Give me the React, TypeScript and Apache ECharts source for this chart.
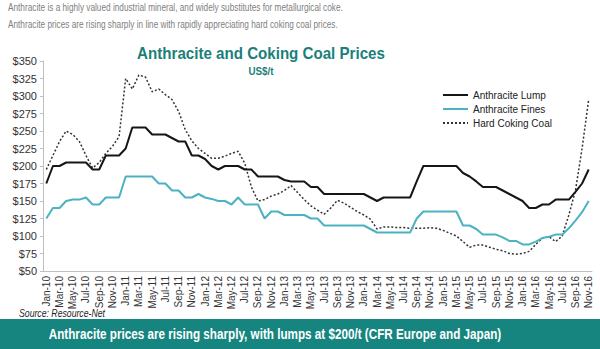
import React, { useEffect, useRef } from "react";
import * as echarts from "echarts";

const months = [
  "Jan-10","Feb-10","Mar-10","Apr-10","May-10","Jun-10","Jul-10","Aug-10","Sep-10","Oct-10","Nov-10","Dec-10",
  "Jan-11","Feb-11","Mar-11","Apr-11","May-11","Jun-11","Jul-11","Aug-11","Sep-11","Oct-11","Nov-11","Dec-11",
  "Jan-12","Feb-12","Mar-12","Apr-12","May-12","Jun-12","Jul-12","Aug-12","Sep-12","Oct-12","Nov-12","Dec-12",
  "Jan-13","Feb-13","Mar-13","Apr-13","May-13","Jun-13","Jul-13","Aug-13","Sep-13","Oct-13","Nov-13","Dec-13",
  "Jan-14","Feb-14","Mar-14","Apr-14","May-14","Jun-14","Jul-14","Aug-14","Sep-14","Oct-14","Nov-14","Dec-14",
  "Jan-15","Feb-15","Mar-15","Apr-15","May-15","Jun-15","Jul-15","Aug-15","Sep-15","Oct-15","Nov-15","Dec-15",
  "Jan-16","Feb-16","Mar-16","Apr-16","May-16","Jun-16","Jul-16","Aug-16","Sep-16","Oct-16","Nov-16",
];

const lump = [
  175, 200, 200, 205, 205, 205, 205, 195, 195, 215,
  215, 215, 225, 255, 255, 255, 245, 245, 245, 240,
  235, 235, 215, 215, 210, 200, 195, 200, 200, 200,
  195, 195, 185, 185, 185, 185, 180, 178, 178, 178,
  170, 170, 160, 160, 160, 160, 160, 160, 160, 155,
  150, 155, 155, 155, 155, 155, 178, 200, 200, 200,
  200, 200, 200, 190, 185, 178, 170, 170, 170, 165,
  160, 155, 150, 140, 140, 145, 145, 152, 152, 152,
  163, 175, 195,
];

const fines = [
  125, 140, 140, 150, 152, 152, 155, 145, 145, 155,
  155, 155, 185, 185, 185, 185, 185, 175, 175, 165,
  165, 155, 155, 160, 155, 153, 150, 150, 145, 155,
  145, 145, 145, 125, 135, 135, 130, 130, 130, 130,
  125, 125, 115, 115, 115, 115, 115, 115, 115, 110,
  105, 105, 105, 105, 105, 105, 125, 135, 135, 135,
  135, 135, 135, 115, 115, 110, 102, 102, 102, 98,
  93, 93, 88, 88, 92, 97, 99, 102, 102, 111,
  122, 134, 150,
];

const coking = [
  195, 215, 235, 250, 245, 235, 215, 197, 205, 218,
  228, 242, 325, 310, 330, 327, 306, 310, 302, 295,
  278, 252, 236, 225, 218, 211, 211, 214, 218, 221,
  204, 170, 150, 152, 157, 160, 165, 172, 162, 152,
  143, 137, 131, 140, 151, 147, 141, 135, 130, 124,
  110, 113, 113, 112, 112, 111, 111, 111, 112, 111,
  108, 104, 100, 92, 84, 87, 87, 84, 81, 79,
  75, 74, 75, 78, 88, 97, 99, 92, 100, 130,
  165, 225, 295,
];

const seriesNames = ["Anthracite Lump", "Anthracite Fines", "Hard Coking Coal"];

const FONT = "Arial, 'Liberation Sans', Helvetica, sans-serif";
const TEAL = "#1a7f7a";
const BANNER = "#16857f";

export default function App() {
  const ref = useRef<HTMLDivElement>(null);
  useEffect(() => {
    const chart = echarts.init(ref.current!, null, { renderer: "svg" });
    chart.setOption({
      animation: false,
      textStyle: { fontFamily: FONT },
      grid: { left: 43, right: 8, top: 61, bottom: 78, containLabel: false },
      legend: {
        orient: "vertical",
        left: 437,
        top: 85,
        itemWidth: 25,
        itemHeight: 12,
        itemGap: 4,
        itemStyle: { opacity: 0 },
        textStyle: { fontSize: 10, color: "#222", fontFamily: FONT },
        data: seriesNames,
      },
      xAxis: {
        type: "category",
        data: months,
        boundaryGap: true,
        axisLine: { lineStyle: { color: "#bfbfbf" } },
        axisTick: { alignWithLabel: true, interval: 1, length: 3, lineStyle: { color: "#bfbfbf" } },
        axisLabel: { interval: 1, rotate: 90, fontSize: 10, color: "#333", margin: 5, fontFamily: FONT },
      },
      yAxis: {
        type: "value",
        min: 50,
        max: 350,
        interval: 25,
        axisLine: { show: true, lineStyle: { color: "#bfbfbf" } },
        axisTick: { show: true, length: 3, lineStyle: { color: "#bfbfbf" } },
        splitLine: { show: false },
        axisLabel: { formatter: (v: number) => "$" + v, fontSize: 11, color: "#333", margin: 6, fontFamily: FONT },
      },
      series: [
        {
          name: seriesNames[0],
          type: "line",
          data: lump,
          symbol: "none",
          lineStyle: { color: "#161616", width: 2 },
          itemStyle: { color: "#161616" },
          z: 4,
        },
        {
          name: seriesNames[1],
          type: "line",
          data: fines,
          symbol: "none",
          lineStyle: { color: "#4cb2c2", width: 2 },
          itemStyle: { color: "#4cb2c2" },
          z: 3,
        },
        {
          name: seriesNames[2],
          type: "line",
          data: coking,
          symbol: "none",
          lineStyle: { color: "#333", width: 1.5, type: [2, 2] },
          itemStyle: { color: "#333" },
          z: 2,
        },
      ],
      graphic: [
        {
          type: "text", x: 8, y: 8, scaleX: 0.825,
          style: { text: "Anthracite is a highly valued industrial mineral, and widely substitutes for metallurgical coke.", fontSize: 10, fill: "#808080", fontFamily: FONT, verticalAlign: "middle" },
        },
        {
          type: "text", x: 8, y: 25, scaleX: 0.825,
          style: { text: "Anthracite prices are rising sharply in line with rapidly appreciating hard coking coal prices.", fontSize: 10, fill: "#808080", fontFamily: FONT, verticalAlign: "middle" },
        },
        {
          type: "text", x: 261, y: 53, scaleX: 0.89,
          style: { text: "Anthracite and Coking Coal Prices", fontSize: 17, fontWeight: "bold", fill: TEAL, fontFamily: FONT, align: "center", verticalAlign: "middle" },
        },
        {
          type: "text", x: 261, y: 71, scaleX: 0.89,
          style: { text: "US$/t", fontSize: 11, fontWeight: "bold", fill: TEAL, fontFamily: FONT, align: "center", verticalAlign: "middle" },
        },
        {
          type: "text", x: 19, y: 314, scaleX: 0.87,
          style: { text: "Source: Resource-Net", fontSize: 10, fontStyle: "italic", fill: "#222", fontFamily: FONT, verticalAlign: "middle" },
        },
        {
          type: "rect", shape: { x: 0, y: 319, width: 600, height: 30 }, style: { fill: BANNER }, z: 10,
        },
        {
          type: "text", x: 275, y: 334, scaleX: 0.78, z: 11,
          style: { text: "Anthracite prices are rising sharply, with lumps at $200/t (CFR Europe and Japan)", fontSize: 15, fontWeight: "bold", fill: "#ffffff", fontFamily: FONT, align: "center", verticalAlign: "middle" },
        },
      ],
    });
    return () => chart.dispose();
  }, []);
  return <div ref={ref} style={{ position: "absolute", left: 0, top: 0, width: 600, height: 349 }} />;
}
